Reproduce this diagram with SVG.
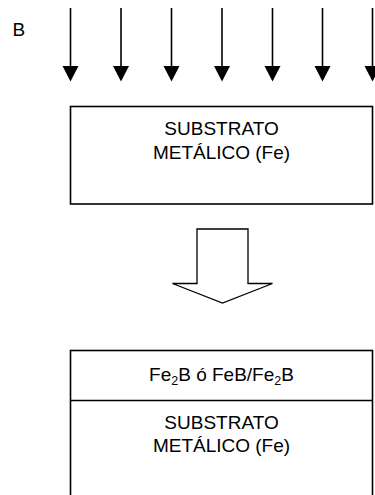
<svg xmlns="http://www.w3.org/2000/svg" width="375" height="495" viewBox="0 0 375 495">
  <defs>
    <style>
      .lbl { font-family: "Liberation Sans", Arial, sans-serif; font-size: 19px; fill: #000; }
      .mid { text-anchor: middle; }
      .box { fill: #fff; stroke: #000; stroke-width: 1.6; }
      .ray { stroke: #000; stroke-width: 1.6; fill: none; }
      .head { fill: #000; stroke: none; }
    </style>
  </defs>
  <rect width="375" height="495" fill="#fff"/>

  <!-- boron flux label -->
  <g id="label-B">
    <text class="lbl" x="12.5" y="35.5">B</text>
  </g>

  <!-- incoming boron arrows -->
  <g id="connectors">
    <g id="ray-1"><line class="ray" x1="70.5" y1="8" x2="70.5" y2="68"/><polygon class="head" points="62.5,66 78.5,66 70.5,81.5"/></g>
    <g id="ray-2"><line class="ray" x1="121" y1="8" x2="121" y2="68"/><polygon class="head" points="113,66 129,66 121,81.5"/></g>
    <g id="ray-3"><line class="ray" x1="171.5" y1="8" x2="171.5" y2="68"/><polygon class="head" points="163.5,66 179.5,66 171.5,81.5"/></g>
    <g id="ray-4"><line class="ray" x1="222" y1="8" x2="222" y2="68"/><polygon class="head" points="214,66 230,66 222,81.5"/></g>
    <g id="ray-5"><line class="ray" x1="272.5" y1="8" x2="272.5" y2="68"/><polygon class="head" points="264.5,66 280.5,66 272.5,81.5"/></g>
    <g id="ray-6"><line class="ray" x1="322.5" y1="8" x2="322.5" y2="68"/><polygon class="head" points="314.5,66 330.5,66 322.5,81.5"/></g>
    <g id="ray-7"><line class="ray" x1="372.5" y1="8" x2="372.5" y2="68"/><polygon class="head" points="364.5,66 380.5,66 372.5,81.5"/></g>

    <!-- process step block arrow -->
    <g id="step-arrow">
      <polygon points="197,229 248,229 248,283.5 272.5,283.5 222.5,303 172.5,283.5 197,283.5"
               fill="#fff" stroke="#000" stroke-width="1.3" stroke-linejoin="miter"/>
    </g>
  </g>

  <!-- substrate before boriding -->
  <g id="substrate-before">
    <rect class="box" x="70.5" y="106.5" width="302" height="97.5"/>
    <text class="lbl mid" x="221.5" y="135">SUBSTRATO</text>
    <text class="lbl mid" x="221.5" y="158.5">METÁLICO (Fe)</text>
  </g>

  <!-- substrate after boriding with boride layer -->
  <g id="substrate-after">
    <rect class="box" x="70.5" y="350.5" width="302" height="160"/>
    <line x1="70.5" y1="400.5" x2="372.5" y2="400.5" stroke="#000" stroke-width="1.6"/>
    <text class="lbl mid" x="221.5" y="380.5">Fe<tspan font-size="12.5" dy="4">2</tspan><tspan dy="-4">B ó FeB/Fe</tspan><tspan font-size="12.5" dy="4">2</tspan><tspan dy="-4">B</tspan></text>
    <text class="lbl mid" x="221.5" y="428.5">SUBSTRATO</text>
    <text class="lbl mid" x="221.5" y="452">METÁLICO (Fe)</text>
  </g>
</svg>
